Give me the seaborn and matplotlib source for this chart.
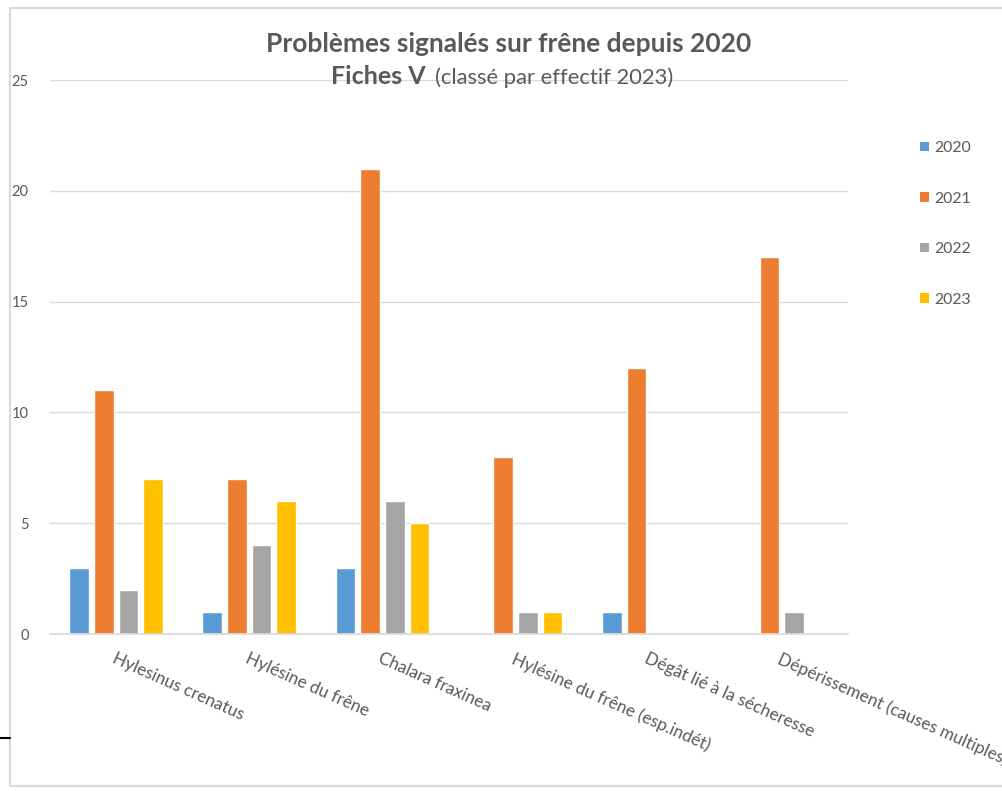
import matplotlib
matplotlib.use("Agg")
import matplotlib.pyplot as plt
from matplotlib.patches import Rectangle, Patch
from matplotlib.lines import Line2D
import pandas as pd
import seaborn as sns

categories = [
    "Hylesinus crenatus",
    "Hylésine du frêne",
    "Chalara fraxinea",
    "Hylésine du frêne (esp.indét)",
    "Dégât lié à la sécheresse",
    "Dépérissement (causes multiples)",
]
years = ["2020", "2021", "2022", "2023"]
v2020 = [3, 1, 3, 0, 1, 0]
v2021 = [11, 7, 21, 8, 12, 17]
v2022 = [2, 4, 6, 1, 0, 1]
v2023 = [7, 6, 5, 1, 0, 0]
colors = ["#5B9BD5", "#ED7D31", "#A5A5A5", "#FFC000"]

rows = []
for year, vals in zip(years, [v2020, v2021, v2022, v2023]):
    for cat, v in zip(categories, vals):
        rows.append({"cat": cat, "year": year, "n": v})
df = pd.DataFrame(rows)

sns.set_theme(style="white")
plt.rcParams["font.family"] = ["Lato", "DejaVu Sans"]
txt = "#595959"

fig = plt.figure(figsize=(10.03, 7.91), dpi=100)
ax = fig.add_axes([49.5 / 1003, 1 - 634 / 791, 799 / 1003, 554 / 791])

sns.barplot(data=df, x="cat", y="n", hue="year", order=categories,
            hue_order=years, palette=colors, width=0.74, gap=0.2,
            saturation=1, ax=ax, legend=False)

ax.set_xlim(-0.5, len(categories) - 0.5)
ax.set_ylim(0, 25)
ax.set_yticks([0, 5, 10, 15, 20, 25])
ax.yaxis.grid(True, color="#D9D9D9", linewidth=1)
ax.set_axisbelow(True)
for s in ["top", "right", "left"]:
    ax.spines[s].set_visible(False)
ax.spines["bottom"].set_color("#D9D9D9")
ax.set_xlabel("")
ax.set_ylabel("")
ax.tick_params(axis="y", length=0, pad=15, labelsize=10.5, labelcolor=txt)
ax.tick_params(axis="x", length=0)
ax.set_xticks(range(len(categories)))
ax.set_xticklabels([])
for i, cat in enumerate(categories):
    ax.text(i, -0.75, cat, rotation=-24, rotation_mode="anchor",
            ha="left", va="top", fontsize=12.3, color=txt,
            transform=ax.transData, clip_on=False)

handles = [Patch(facecolor=c, edgecolor="none") for c in colors]
fig.legend(handles, years, loc="upper left",
           bbox_to_anchor=(906 / 1003, 1 - 127 / 791), frameon=False,
           fontsize=11.4, labelcolor=txt, handlelength=0.55, handleheight=0.55,
           handletextpad=0.35, labelspacing=2.3)

fig.text(0.507, 1 - 44 / 791, "Problèmes signalés sur frêne depuis 2020",
         ha="center", va="center", fontsize=19, fontweight="bold", color=txt)
fig.text(0.430, 1 - 77 / 791, "Fiches V ", ha="right", va="center",
         fontsize=18, fontweight="bold", color=txt)
fig.text(0.434, 1 - 78 / 791, "(classé par effectif 2023)", ha="left",
         va="center", fontsize=15.8, color=txt)

# chart area border and the small black mark at the left edge
fig.add_artist(Rectangle((10 / 1003, 1 - 786 / 791), 1.0, 778 / 791,
                         transform=fig.transFigure, fill=False,
                         edgecolor="#D9D9D9", linewidth=1.5))
fig.add_artist(Line2D([0, 10 / 1003], [1 - 738 / 791] * 2,
                      transform=fig.transFigure, color="black", linewidth=1.5))

fig.savefig("out.png", dpi=100)
